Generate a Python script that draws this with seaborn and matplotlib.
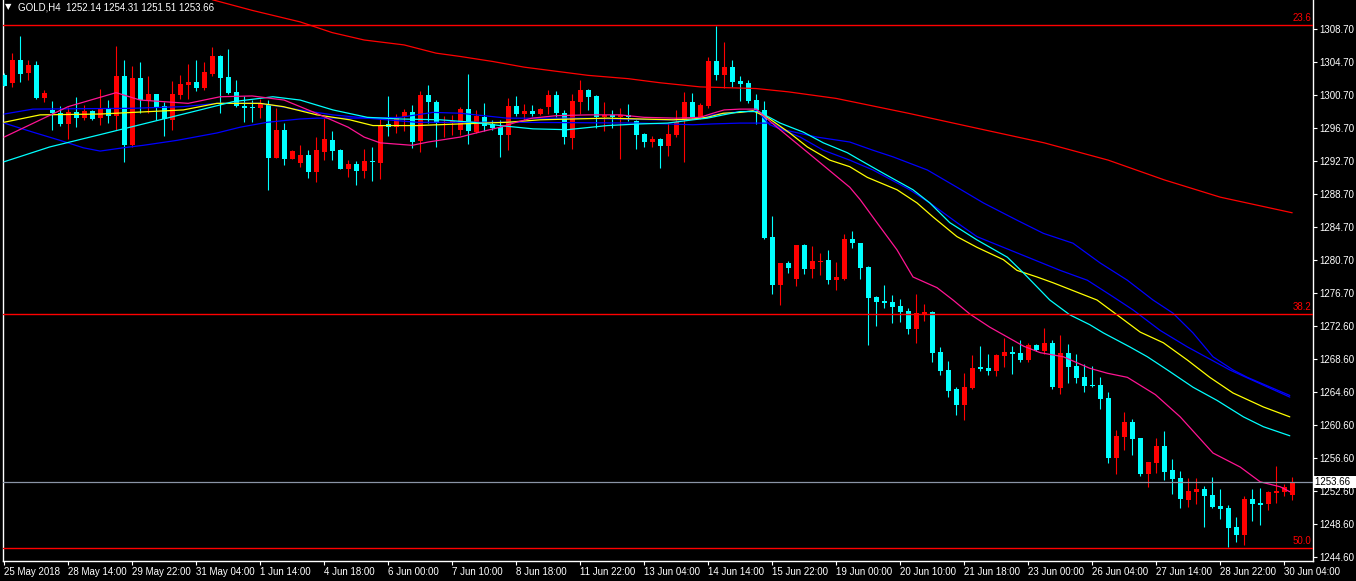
import matplotlib
matplotlib.use("Agg")
import numpy as np
import pandas as pd
import matplotlib.pyplot as plt
import matplotlib.transforms as mtransforms
import seaborn as sb

# ---- data (GOLD H4, 25 May - 30 Jun 2018) ----
symbol = "GOLD,H4"
last_ohlc = [1252.14, 1254.31, 1251.51, 1253.66]

opens = [1303.14, 1302.21, 1304.97, 1303.42, 1304.36, 1300.39, 1298.89, 1298.49, 1297.19, 1298.65,
         1297.95, 1298.77, 1297.95, 1299.13, 1298.20, 1303.02, 1294.64, 1302.78, 1299.98, 1300.84,
         1299.38, 1297.67, 1300.71, 1301.93, 1302.29, 1301.56, 1303.27, 1305.45, 1302.90, 1301.08,
         1299.38, 1299.26, 1299.13, 1299.50, 1293.06, 1296.46, 1292.97, 1292.49, 1293.42, 1291.39,
         1293.82, 1295.24, 1294.03, 1291.76, 1292.33, 1291.51, 1292.69, 1292.49, 1297.19, 1296.79,
         1298.00, 1298.65, 1295.16, 1300.71, 1299.86, 1297.31, 1297.37, 1296.46, 1299.01, 1296.25,
         1298.08, 1297.19, 1296.86, 1295.85, 1299.38, 1298.40, 1298.77, 1298.40, 1299.29, 1300.71,
         1298.49, 1295.52, 1299.90, 1301.32, 1300.59, 1298.08, 1298.32, 1298.08, 1298.32, 1297.55,
         1295.97, 1295.04, 1295.37, 1294.52, 1295.85, 1297.76, 1299.90, 1298.00, 1299.38, 1304.85,
         1303.14, 1304.15, 1302.42, 1302.21, 1300.11, 1298.89, 1283.49, 1277.62, 1280.33, 1278.35,
         1282.48, 1279.57, 1280.45, 1280.66, 1278.23, 1278.31, 1283.21, 1282.73, 1279.81, 1276.16,
         1275.68, 1275.56, 1275.07, 1274.46, 1272.27, 1273.97, 1274.34, 1269.48, 1267.29, 1264.98,
         1263.04, 1265.10, 1267.66, 1267.53, 1267.17, 1268.99, 1269.48, 1269.36, 1268.51, 1270.33,
         1269.64, 1270.57, 1265.14, 1269.36, 1267.78, 1266.44, 1265.45, 1265.47, 1263.89, 1256.63,
         1259.15, 1260.97, 1259.03, 1254.65, 1255.99, 1258.05, 1255.14, 1254.17, 1251.49, 1252.50,
         1252.83, 1252.10, 1250.76, 1250.52, 1248.21, 1247.24, 1251.61, 1251.13, 1251.00, 1252.34,
         1252.46, 1252.14]
highs = [1303.39, 1305.85, 1307.88, 1304.97, 1304.85, 1301.32, 1299.98, 1299.38, 1299.26, 1300.47,
         1299.50, 1298.89, 1301.44, 1300.11, 1306.67, 1304.97, 1304.24, 1304.72, 1303.02, 1300.84,
         1299.90, 1302.42, 1303.14, 1304.48, 1304.97, 1304.72, 1306.58, 1305.61, 1306.30, 1302.54,
         1300.59, 1300.11, 1300.26, 1300.11, 1299.13, 1297.31, 1294.03, 1294.64, 1294.03, 1295.65,
         1297.95, 1296.34, 1294.15, 1292.81, 1292.69, 1294.15, 1294.43, 1297.80, 1300.59, 1298.40,
         1299.05, 1299.50, 1301.24, 1301.93, 1300.11, 1298.16, 1298.28, 1299.22, 1303.27, 1298.89,
         1299.74, 1297.67, 1297.67, 1300.35, 1300.59, 1299.62, 1299.50, 1299.13, 1301.32, 1301.20,
         1298.89, 1300.84, 1302.54, 1301.44, 1300.71, 1299.90, 1298.89, 1299.13, 1299.62, 1297.67,
         1296.09, 1295.77, 1295.52, 1297.31, 1298.89, 1301.08, 1300.92, 1299.78, 1305.37, 1309.10,
         1307.16, 1304.97, 1303.02, 1302.54, 1300.84, 1299.98, 1286.01, 1280.33, 1280.54, 1282.48,
         1282.60, 1282.36, 1281.55, 1281.88, 1280.42, 1283.86, 1284.18, 1282.73, 1279.97, 1276.28,
         1277.62, 1276.41, 1275.92, 1274.82, 1276.53, 1275.31, 1274.46, 1270.09, 1268.38, 1265.22,
         1266.93, 1269.11, 1270.21, 1269.23, 1269.23, 1271.18, 1270.21, 1270.94, 1270.57, 1270.45,
         1272.39, 1270.94, 1271.54, 1270.45, 1269.23, 1268.02, 1267.78, 1266.44, 1264.65, 1259.99,
         1262.19, 1261.33, 1259.03, 1256.11, 1259.03, 1259.88, 1256.47, 1255.01, 1254.17, 1254.17,
         1253.19, 1254.29, 1252.83, 1250.88, 1249.42, 1251.98, 1252.83, 1252.95, 1252.58, 1255.62,
         1253.43, 1254.31]
lows = [1301.81, 1301.72, 1302.33, 1302.54, 1300.19, 1299.90, 1296.46, 1296.95, 1295.37, 1296.86,
        1297.67, 1297.67, 1297.07, 1297.35, 1296.46, 1292.61, 1294.43, 1298.53, 1298.53, 1297.67,
        1295.73, 1296.46, 1300.23, 1300.23, 1301.24, 1301.32, 1303.02, 1298.56, 1300.84, 1299.22,
        1297.47, 1297.47, 1297.95, 1289.17, 1293.00, 1292.21, 1292.90, 1292.00, 1290.66, 1290.18,
        1292.81, 1292.81, 1291.68, 1290.78, 1289.81, 1290.66, 1290.30, 1290.54, 1295.73, 1296.13,
        1296.34, 1294.24, 1293.82, 1297.35, 1294.43, 1295.61, 1295.85, 1295.85, 1294.76, 1296.06,
        1296.34, 1296.46, 1293.21, 1294.03, 1298.16, 1297.67, 1298.16, 1298.28, 1298.40, 1298.08,
        1294.76, 1294.11, 1298.40, 1298.89, 1296.67, 1296.34, 1296.67, 1292.97, 1297.55, 1294.15,
        1294.43, 1294.43, 1291.88, 1293.34, 1295.65, 1292.61, 1297.76, 1297.76, 1299.17, 1302.54,
        1301.53, 1301.72, 1299.98, 1299.78, 1297.19, 1283.20, 1276.53, 1275.19, 1279.12, 1277.50,
        1278.96, 1278.47, 1278.84, 1277.74, 1277.01, 1278.23, 1282.15, 1278.35, 1270.33, 1272.64,
        1274.82, 1273.00, 1273.12, 1271.67, 1270.57, 1273.24, 1268.26, 1266.68, 1264.01, 1261.82,
        1261.21, 1265.00, 1267.17, 1266.68, 1266.56, 1267.66, 1266.80, 1268.26, 1268.26, 1269.60,
        1269.23, 1264.98, 1264.34, 1265.67, 1265.67, 1264.65, 1265.26, 1262.59, 1256.02, 1254.69,
        1257.57, 1257.00, 1254.44, 1253.11, 1254.74, 1253.92, 1252.22, 1250.56, 1250.64, 1251.00,
        1248.25, 1250.52, 1249.18, 1245.82, 1246.39, 1246.02, 1248.94, 1248.45, 1250.27, 1251.13,
        1251.98, 1251.51]
closes = [1301.84, 1304.97, 1303.27, 1304.36, 1300.39, 1300.96, 1298.49, 1297.19, 1298.68, 1297.95,
          1298.77, 1297.80, 1299.13, 1298.20, 1303.02, 1294.64, 1302.78, 1300.11, 1300.84, 1299.22,
          1297.76, 1300.84, 1302.05, 1302.29, 1301.56, 1303.51, 1305.45, 1302.78, 1300.96, 1299.38,
          1299.13, 1299.13, 1299.78, 1293.06, 1296.46, 1292.97, 1293.91, 1293.42, 1291.39, 1294.03,
          1295.37, 1293.94, 1291.76, 1292.33, 1291.51, 1292.69, 1292.57, 1297.07, 1296.79, 1298.08,
          1298.65, 1295.04, 1300.71, 1299.90, 1297.27, 1297.49, 1297.55, 1299.01, 1296.37, 1298.20,
          1296.95, 1296.74, 1295.85, 1299.38, 1298.40, 1298.77, 1298.40, 1299.01, 1300.71, 1298.56,
          1295.65, 1299.98, 1301.32, 1300.51, 1298.08, 1298.32, 1298.08, 1298.32, 1298.08, 1295.85,
          1295.04, 1295.37, 1294.52, 1295.97, 1297.47, 1299.90, 1298.00, 1299.50, 1304.85, 1303.14,
          1304.15, 1302.29, 1302.05, 1299.98, 1298.89, 1283.37, 1277.62, 1280.33, 1279.65, 1282.48,
          1279.57, 1280.54, 1280.55, 1278.23, 1278.59, 1283.21, 1282.73, 1279.69, 1276.04, 1275.56,
          1275.43, 1274.95, 1274.34, 1272.27, 1274.22, 1274.34, 1269.36, 1267.17, 1264.74, 1263.04,
          1265.22, 1267.53, 1267.41, 1267.17, 1269.11, 1269.48, 1269.23, 1268.51, 1270.33, 1269.72,
          1270.57, 1265.26, 1269.36, 1267.69, 1266.35, 1265.38, 1265.38, 1263.80, 1256.63, 1259.27,
          1260.97, 1258.94, 1254.65, 1256.11, 1258.05, 1254.93, 1254.04, 1251.61, 1252.58, 1252.83,
          1251.98, 1250.64, 1250.40, 1248.09, 1247.24, 1251.61, 1251.00, 1250.88, 1252.46, 1252.58,
          1253.07, 1253.66]

# moving averages: bar position -> price
ma_red_bar = [26, 31, 37, 41, 45, 50, 54, 57, 61, 65, 69, 73, 78, 82, 85, 87, 94, 98, 104,
              107, 113, 121, 130, 138, 145, 152, 161]
ma_red = [1312.3, 1311.0, 1309.6, 1308.3, 1307.4, 1306.8, 1305.8, 1305.4, 1304.8, 1304.1,
          1303.6, 1303.1, 1302.7, 1302.2, 1301.9, 1301.7, 1301.5, 1301.1, 1300.3, 1299.7,
          1298.5, 1296.8, 1294.9, 1292.8, 1290.4, 1288.3, 1286.4]

ma_pink_bar = [0, 8, 14, 17, 23, 27, 31, 35, 39, 43, 45, 47, 51, 53, 57, 59, 62, 64, 66, 69,
               73, 77, 80, 84, 87, 88.6, 90, 92, 94, 96, 98.6, 101.6, 105.7, 107, 109.1, 111.6,
               113.6, 116.6, 118.6, 120.7, 123.2, 125.4, 127.4, 129.5, 132.4, 135.7, 137.9,
               140.4, 143.9, 147, 151.1, 154.5, 157, 159.5, 160.7]
ma_pink = [1295.6, 1299.3, 1301.0, 1300.1, 1299.7, 1300.5, 1300.6, 1300.1, 1298.5, 1296.8,
           1295.6, 1294.9, 1294.6, 1295.0, 1295.6, 1296.1, 1296.8, 1297.4, 1297.9, 1298.2,
           1298.3, 1298.3, 1298.0, 1297.9, 1298.0, 1298.5, 1298.9, 1299.0, 1299.0, 1297.3,
           1295.2, 1292.8, 1289.5, 1288.0, 1285.2, 1281.9, 1278.6, 1277.3, 1275.8, 1274.1,
           1272.5, 1271.3, 1270.2, 1269.4, 1268.9, 1267.5, 1266.9, 1266.4, 1264.3, 1261.6,
           1257.2, 1255.5, 1253.7, 1253.1, 1252.5]

ma_cyan_bar = [0, 5.7, 12, 19.5, 24.5, 28.6, 33.6, 37, 41.1, 45.4, 49.5, 54.5, 58.6, 62, 66.1,
               70.4, 75.4, 79.5, 82.9, 86.1, 87.9, 89.9, 92, 94.3, 97, 99.9, 102.4, 105.4, 107,
               109.9, 113.6, 115.7, 118.2, 121.6, 125.4, 127.4, 129.5, 130.7, 133.2, 135.7,
               137.4, 140.7, 142.9, 145.4, 148.6, 151.6, 154.9, 157.4, 160.7]
ma_cyan = [1292.6, 1294.4, 1295.9, 1297.7, 1298.9, 1299.9, 1300.5, 1300.1, 1298.9, 1298.0,
           1297.8, 1297.7, 1297.4, 1297.0, 1296.6, 1296.5, 1297.0, 1297.2, 1297.3, 1297.7,
           1297.9, 1298.3, 1298.7, 1298.7, 1297.3, 1296.2, 1294.9, 1293.7, 1292.8, 1291.2,
           1289.2, 1287.6, 1285.2, 1283.1, 1281.0, 1279.1, 1277.0, 1275.8, 1274.0, 1272.8,
           1271.8, 1270.1, 1268.9, 1267.3, 1265.2, 1263.6, 1261.6, 1260.4, 1259.3]

ma_yellow_bar = [0, 4.5, 12, 16.1, 22.4, 26.6, 32, 34.9, 39.1, 43.2, 46.1, 51.6, 57, 62.9, 67,
                 71.1, 75.4, 79.5, 83.6, 86.1, 87.9, 89.9, 92, 93.6, 95.4, 98.2, 100.4, 103.2,
                 105.7, 107.9, 111.6, 114.1, 116.1, 119.1, 121.6, 124.9, 126.6, 129.1, 131.1,
                 134.5, 136.6, 139.1, 142, 144.9, 147.9, 150.7, 153.6, 157.4, 160.7]
ma_yellow = [1297.4, 1298.3, 1298.4, 1298.6, 1298.9, 1299.7, 1299.7, 1299.3, 1298.3, 1297.7,
             1297.0, 1297.0, 1297.2, 1297.4, 1297.7, 1297.8, 1297.9, 1297.8, 1297.7, 1297.8,
             1298.0, 1298.5, 1298.6, 1298.8, 1298.0, 1296.1, 1294.4, 1292.8, 1292.0, 1290.7,
             1289.2, 1287.6, 1285.9, 1283.5, 1282.2, 1280.7, 1279.4, 1278.6, 1277.9, 1276.6,
             1275.8, 1274.0, 1271.9, 1270.6, 1268.5, 1266.4, 1264.5, 1262.8, 1261.6]

ma_blue_fast_bar = [0, 3.6, 16.1, 22.4, 26.6, 32, 37, 41.1, 45.4, 49.5, 53.6, 57, 62.9, 67, 72,
                    76.6, 81.6, 84.5, 87.4, 88.6, 91.1, 94.1, 95.7, 99.5, 102.4, 105.7, 108.6,
                    113.2, 115.7, 119.1, 121.6, 124.9, 128.2, 132, 135.4, 138.6, 141.1, 144.5,
                    147.9, 153.2, 156.6, 160.7]
ma_blue_fast = [1298.4, 1299.0, 1299.1, 1299.3, 1299.7, 1299.7, 1298.9, 1298.3, 1297.9, 1298.0,
                1298.6, 1298.5, 1297.9, 1297.9, 1297.9, 1297.8, 1297.7, 1297.7, 1297.9, 1298.3,
                1298.6, 1298.8, 1297.1, 1295.6, 1294.0, 1292.8, 1291.6, 1289.2, 1287.6, 1285.2,
                1283.5, 1282.2, 1280.9, 1279.4, 1278.2, 1276.2, 1274.6, 1272.1, 1270.1, 1267.3,
                1265.8, 1264.0]

ma_blue_slow_bar = [0, 3.6, 7, 9.9, 12, 14.9, 17.4, 21.6, 26.6, 29.5, 32.9, 37, 39.1, 45.4, 51.6,
                    57, 62.9, 79.5, 86.1, 88.6, 92, 96.1, 97.4, 101.6, 105.7, 108.6, 111.1, 115.4,
                    119.1, 122.4, 126.6, 129.9, 133.6, 137, 140.4, 143.6, 146.1, 148.6, 151.1,
                    153.6, 155.4, 160.7]
ma_blue_slow = [1297.3, 1296.2, 1295.2, 1294.3, 1293.9, 1294.3, 1294.6, 1295.2, 1296.1, 1296.8,
                1297.4, 1297.8, 1297.9, 1297.9, 1297.4, 1297.4, 1297.4, 1297.3, 1297.1, 1297.2,
                1297.3, 1297.3, 1296.5, 1295.6, 1295.0, 1294.0, 1293.2, 1291.6, 1289.5, 1287.6,
                1285.5, 1283.9, 1282.7, 1280.3, 1278.2, 1275.8, 1274.2, 1271.8, 1268.9, 1267.3,
                1266.4, 1264.2]

fib_names = ["23.6", "38.2", "50.0"]
fib_levels = [1309.22, 1274.06, 1245.69]
bid = 1253.66

date_bars = [0, 8, 16, 24, 32, 40, 48, 56, 64, 72, 80, 88, 96, 104, 112, 120, 128, 136, 144, 152, 160]
date_labels = ["25 May 2018", "28 May 14:00", "29 May 22:00", "31 May 04:00", "1 Jun 14:00",
               "4 Jun 18:00", "6 Jun 00:00", "7 Jun 10:00", "8 Jun 18:00", "11 Jun 22:00",
               "13 Jun 04:00", "14 Jun 14:00", "15 Jun 22:00", "19 Jun 00:00", "20 Jun 10:00",
               "21 Jun 18:00", "23 Jun 00:00", "26 Jun 04:00", "27 Jun 14:00", "28 Jun 22:00",
               "30 Jun 04:00"]
price_ticks = [1308.7, 1304.7, 1300.7, 1296.7, 1292.7, 1288.7, 1284.7, 1280.7, 1276.7,
               1272.6, 1268.6, 1264.6, 1260.6, 1256.6, 1252.6, 1248.6, 1244.6]

df = pd.DataFrame({"open": opens, "high": highs, "low": lows, "close": closes})
df["bar"] = np.arange(len(df))
df["up"] = df["close"] >= df["open"]

# ---- style ----
sb.set_style("dark", {"axes.facecolor": "black", "figure.facecolor": "black",
                      "axes.edgecolor": "white", "text.color": "white",
                      "xtick.color": "white", "ytick.color": "white",
                      "axes.grid": False})
plt.rcParams["font.family"] = ["Liberation Sans", "DejaVu Sans"]

W, H = 1356, 581
fig = plt.figure(figsize=(W / 100, H / 100), dpi=100)
ax = fig.add_axes([2.5 / W, 20 / H, 1310.5 / W, 561 / H])
ax.set_facecolor("black")

bull, bear = "#ff0000", "#00ffff"
cols = np.where(df["up"], bull, bear)

# wicks + bodies
ax.vlines(df["bar"], df["low"], df["high"], colors=cols, linewidth=0.8, zorder=2)
body_lo = np.minimum(df["open"], df["close"])
body_h = np.maximum((df["close"] - df["open"]).abs(), 0.13)
ax.bar(df["bar"], body_h, bottom=body_lo, width=0.625, color=cols, linewidth=0, zorder=3)

# moving averages
mas = [(ma_red_bar, ma_red, "#ff0000"), (ma_blue_slow_bar, ma_blue_slow, "#0000ff"),
       (ma_blue_fast_bar, ma_blue_fast, "#0000ff"), (ma_yellow_bar, ma_yellow, "#ffff00"),
       (ma_cyan_bar, ma_cyan, "#00ffff"), (ma_pink_bar, ma_pink, "#ff1493")]
for xs, ys, c in mas:
    sb.lineplot(x=xs, y=ys, color=c, linewidth=0.9, sort=False, estimator=None, ax=ax, zorder=4)

# fibo levels and bid line
for name, lvl in zip(fib_names, fib_levels):
    ax.axhline(lvl, color="#ff0000", linewidth=1.0, zorder=5)
    ax.text(163.4, lvl + 0.25, name, color="#ff0000", fontsize=7, ha="right", va="bottom", zorder=6)
ax.axhline(bid, color="#8a94a6", linewidth=0.9, zorder=5)

# axes
ax.set_xlim(-0.2, 163.6)
ax.set_ylim(1244.08, 1312.26)
ax.set_xlabel("")
ax.set_ylabel("")
ax.set_xticks(date_bars)
ax.set_xticklabels(date_labels, ha="left")
ax.set_yticks(price_ticks)
ax.set_yticklabels(["%.2f" % p for p in price_ticks])
ax.yaxis.tick_right()
ax.tick_params(axis="y", right=True, left=False, direction="out", length=3, width=0.8,
               pad=1.5, labelsize=7, colors="white")
ax.tick_params(axis="x", bottom=True, direction="out", length=3, width=0.8,
               pad=1.5, labelsize=7, colors="white")
for s in ["left", "right", "bottom"]:
    ax.spines[s].set_color("white")
    ax.spines[s].set_linewidth(1.0)
ax.spines["top"].set_visible(False)

# current price box on the scale
tr = mtransforms.blended_transform_factory(ax.transAxes, ax.transData)
ax.text(1.0015, bid, "1253.66  ", transform=tr, color="black", fontsize=7, ha="left",
        va="center", zorder=10, clip_on=False,
        bbox=dict(boxstyle="square,pad=0.12", fc="white", ec="none"))

# header
fig.text(5 / W, 1 - 7 / H, "\u25bc", color="white", fontsize=6, va="center", ha="left",
         family=["DejaVu Sans"])
fig.text(18 / W, 1 - 7 / H, "%s  %s" % (symbol, " ".join("%.2f" % v for v in last_ohlc)),
         color="white", fontsize=7, va="center", ha="left")

fig.savefig("out.png", dpi=100, facecolor="black")
